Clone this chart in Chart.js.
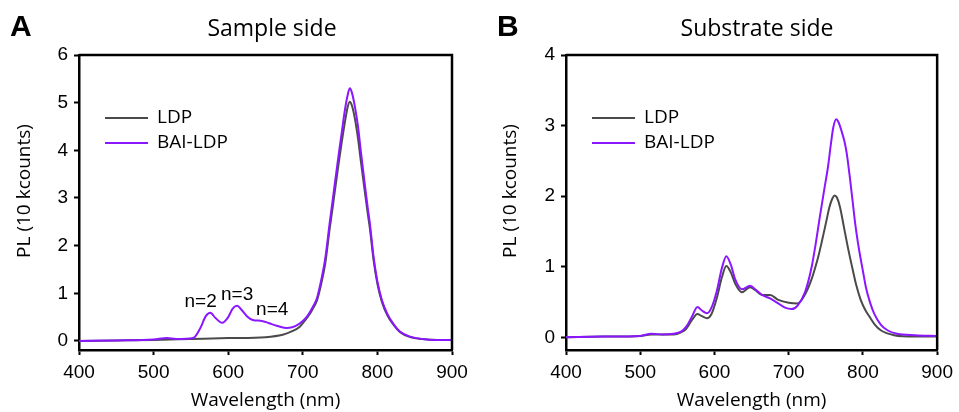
<!DOCTYPE html>
<html>
<head>
<meta charset="utf-8">
<script src="https://cdn.jsdelivr.net/npm/chart.js@4.4.1/dist/chart.umd.min.js"></script>
<style>
  body { margin: 0; background: #fff; }
  .panel { position: absolute; top: 0; height: 412px; }
</style>
</head>
<body>
<div class="panel" style="left:0;width:480px"><canvas id="chartA" width="480" height="412"></canvas></div>
<div class="panel" style="left:480px;width:479px"><canvas id="chartB" width="479" height="412"></canvas></div>
<script>
// Panel A - sample side
const wlA_LDP = [400,450,500,550,600,650,673,685,696,703,710,715,719,725,730,736,740,743,748,752,756,760,763,766,770,774,778,783,787,790,795,800,806,813,821,830,844,860,880,900];
const plA_LDP = [0,0.01,0.02,0.04,0.06,0.08,0.13,0.2,0.3,0.43,0.58,0.72,0.85,1.22,1.62,2.35,2.8,3.15,3.72,4.15,4.55,4.9,5.02,4.93,4.65,4.25,3.75,3.15,2.68,2.35,1.68,1.2,0.82,0.55,0.35,0.19,0.08,0.04,0.02,0.02];
const wlA_BAI = [400,450,500,518,530,553,562,570,576,583,592,600,606,612,618,625,633,645,655,665,679,690,700,705,710,715,719,725,730,736,740,743,748,752,756,760,763,766,770,774,778,783,787,790,795,800,806,813,821,830,844,860,880,900];
const plA_BAI = [0,0.01,0.03,0.06,0.04,0.06,0.25,0.52,0.59,0.48,0.38,0.5,0.68,0.74,0.65,0.52,0.44,0.42,0.37,0.32,0.27,0.31,0.42,0.5,0.62,0.76,0.9,1.3,1.72,2.47,2.95,3.31,3.9,4.35,4.8,5.15,5.3,5.2,4.9,4.5,3.95,3.3,2.8,2.45,1.75,1.25,0.86,0.58,0.37,0.2,0.09,0.04,0.02,0.02];

// Panel B - substrate side
const wlB_LDP = [400,450,500,515,530,545,555,562,570,577,583,590,596,603,610,616,622,628,637,648,656,664,675,686,700,712,720,730,740,746,751,755,759,762,765,769,775,780,786,791,797,803,809,816,824,842,870,900];
const plB_LDP = [0,0.01,0.02,0.04,0.04,0.04,0.07,0.12,0.25,0.33,0.3,0.27,0.33,0.55,0.85,1.01,0.92,0.76,0.64,0.71,0.66,0.6,0.6,0.53,0.49,0.48,0.57,0.8,1.15,1.42,1.66,1.85,1.97,2.01,1.98,1.85,1.53,1.26,0.97,0.74,0.53,0.39,0.29,0.18,0.1,0.03,0.01,0.01];
const wlB_BAI = [400,450,500,515,530,545,555,562,570,577,583,590,596,603,610,616,622,628,637,648,656,664,675,686,695,704,712,722,731,736,742,748,753,757,760,764,767,771,775,778,782,786,790,795,800,804,810,815,824,833,846,870,900];
const plB_BAI = [0,0.01,0.02,0.05,0.04,0.05,0.08,0.15,0.3,0.43,0.38,0.34,0.42,0.65,0.98,1.15,1.03,0.82,0.68,0.73,0.67,0.6,0.55,0.48,0.42,0.4,0.45,0.64,1.0,1.3,1.71,2.1,2.42,2.75,2.97,3.09,3.05,2.93,2.78,2.62,2.3,1.94,1.58,1.23,0.94,0.71,0.48,0.34,0.18,0.1,0.05,0.03,0.02];

const seriesNames = ['LDP', 'BAI-LDP'];
const xTicks = [400, 500, 600, 700, 800, 900];
const yTicksA = [0, 1, 2, 3, 4, 5, 6];
const yTicksB = [0, 1, 2, 3, 4];

// peak labels of panel A (wavelength, PL)
const noteText = ['n=2', 'n=3', 'n=4'];
const noteX = [563, 612, 659];
const noteY = [0.82, 0.96, 0.65];

const GRAY = '#4a4a4a';
const PURPLE = '#8b17ff';

function pts(xs, ys) {
  return xs.map((x, i) => ({ x: x, y: ys[i] }));
}

// draws the frame, letter, title, y title, legend and notes
const decorPlugin = {
  id: 'decor',
  afterDraw(chart, args, o) {
    const ctx = chart.ctx;
    const a = chart.chartArea;
    ctx.save();
    ctx.strokeStyle = '#000';
    ctx.lineWidth = 2.5;
    ctx.beginPath();
    ctx.moveTo(a.left, a.top);
    ctx.lineTo(a.right, a.top);
    ctx.lineTo(a.right, a.bottom);
    ctx.stroke();

    ctx.fillStyle = '#000';
    ctx.textBaseline = 'middle';
    ctx.textAlign = 'left';
    ctx.font = 'bold 30px "Liberation Sans", Arial';
    ctx.fillText(o.letter, o.letterX, 28);

    ctx.textAlign = 'center';
    ctx.font = '23px "Open Sans"';
    ctx.fillText(o.title, o.titleX, 29);

    // legend
    ctx.font = '19px "Open Sans"';
    ctx.textAlign = 'left';
    chart.data.datasets.forEach((ds, i) => {
      const y = a.top + 63 + i * 25;
      ctx.strokeStyle = ds.borderColor;
      ctx.lineWidth = 2;
      ctx.beginPath();
      ctx.moveTo(a.left + 26, y);
      ctx.lineTo(a.left + 69, y);
      ctx.stroke();
      ctx.fillText(ds.label, a.left + 78, y);
    });

    // notes in data coordinates
    if (o.notes) {
      const sx = chart.scales.x, sy = chart.scales.y;
      ctx.textAlign = 'center';
      ctx.font = '19px "Liberation Sans", Arial';
      o.notes.text.forEach((t, i) => {
        ctx.fillText(t, sx.getPixelForValue(o.notes.x[i]), sy.getPixelForValue(o.notes.y[i]));
      });
    }

    ctx.translate(o.yTitleX, 191);
    ctx.rotate(-Math.PI / 2);
    ctx.textAlign = 'center';
    ctx.font = '19px "Open Sans"';
    ctx.fillText('PL (10 kcounts)', 0, 0);
    ctx.restore();
  }
};

function makePanel(id, cfg) {
  return new Chart(document.getElementById(id), {
    type: 'line',
    data: {
      datasets: [
        { label: seriesNames[0], data: pts(cfg.wl1, cfg.pl1), borderColor: GRAY, borderWidth: 2, order: 1 },
        { label: seriesNames[1], data: pts(cfg.wl2, cfg.pl2), borderColor: PURPLE, borderWidth: 2, order: 0 }
      ]
    },
    options: {
      responsive: false,
      animation: false,
      events: [],
      elements: {
        point: { radius: 0 },
        line: { cubicInterpolationMode: 'monotone', fill: false }
      },
      layout: { padding: { top: 55, right: cfg.padRight, left: 0, bottom: 0 } },
      scales: {
        x: {
          type: 'linear',
          min: 400,
          max: 900,
          afterFit: s => { s.height = 62; },
          afterBuildTicks: s => { s.ticks = xTicks.map(v => ({ value: v })); },
          grid: { drawOnChartArea: false, drawTicks: true, tickLength: 5, tickWidth: 2, tickColor: '#000' },
          border: { display: true, color: '#000', width: 2.5 },
          ticks: { color: '#000', padding: 6, maxRotation: 0, font: { family: '"Liberation Sans", Arial', size: 19 } },
          title: { display: true, text: 'Wavelength (nm)', color: '#000', padding: { top: 0, bottom: 0 }, font: { family: '"Open Sans"', size: 19 } }
        },
        y: {
          type: 'linear',
          min: cfg.yMin,
          max: cfg.yMax,
          afterFit: s => { s.width = cfg.yWidth; },
          afterBuildTicks: s => { s.ticks = cfg.yTicks.map(v => ({ value: v })); },
          grid: { drawOnChartArea: false, drawTicks: true, tickLength: 5, tickWidth: 2, tickColor: '#000' },
          border: { display: true, color: '#000', width: 2.5 },
          ticks: { color: '#000', padding: 6, font: { family: '"Liberation Sans", Arial', size: 19 } }
        }
      },
      plugins: {
        legend: { display: false },
        tooltip: { enabled: false },
        decor: cfg.decor
      }
    },
    plugins: [decorPlugin]
  });
}

makePanel('chartA', {
  wl1: wlA_LDP, pl1: plA_LDP, wl2: wlA_BAI, pl2: plA_BAI,
  yMin: -0.19, yMax: 6, yTicks: yTicksA, yWidth: 79, padRight: 28,
  decor: { letter: 'A', letterX: 10, title: 'Sample side', titleX: 272, yTitleX: 25,
           notes: { text: noteText, x: noteX, y: noteY } }
});

makePanel('chartB', {
  wl1: wlB_LDP, pl1: plB_LDP, wl2: wlB_BAI, pl2: plB_BAI,
  yMin: -0.18, yMax: 4, yTicks: yTicksB, yWidth: 86, padRight: 19,
  decor: { letter: 'B', letterX: 17, title: 'Substrate side', titleX: 277, yTitleX: 31 }
});
</script>
</body>
</html>
